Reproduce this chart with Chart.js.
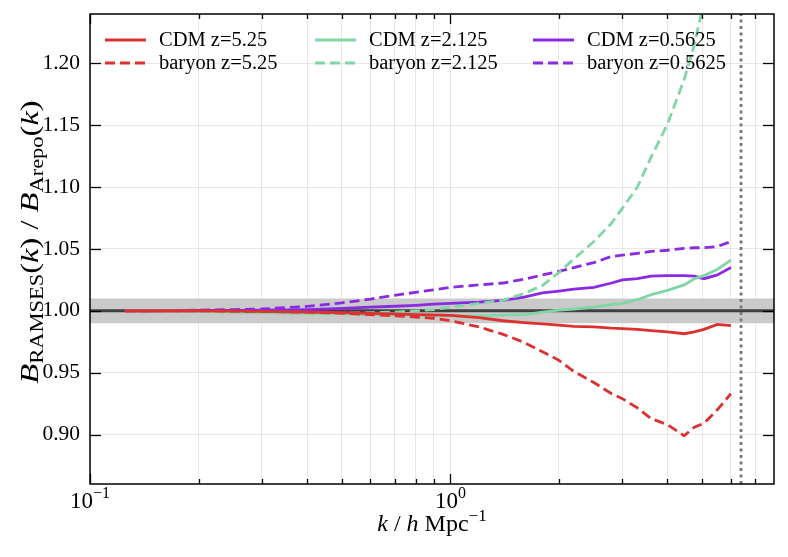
<!DOCTYPE html>
<html lang="en">
<head>
  <meta charset="UTF-8" />
  <title>Bispectrum ratio RAMSES / Arepo</title>
  <style>
    body { margin: 0; background: #fff; }
  </style>
</head>
<body>
  <canvas id="ratioChart" width="788" height="557"></canvas>

  <script src="https://cdn.jsdelivr.net/npm/chart.js"></script>
  <script>
    // wavenumbers (h/Mpc) shared by all curves
    const kValues = [0.125, 0.15, 0.2, 0.25, 0.3, 0.4, 0.5, 0.6, 0.7, 0.8, 0.9, 1.0, 1.2, 1.4, 1.6, 1.8,
                     2.0, 2.2, 2.5, 2.8, 3.0, 3.3, 3.6, 4.0, 4.45, 4.75, 5.05, 5.5, 6.0];

    const cdmZ525 = [1.0, 1.0, 1.0, 0.9998, 0.9995, 0.999, 0.9985, 0.998, 0.9975, 0.997, 0.9968, 0.9964, 0.9945, 0.992, 0.9905, 0.9895,
                     0.9885, 0.9875, 0.987, 0.986, 0.9857, 0.985, 0.984, 0.983, 0.9815, 0.983, 0.985, 0.989, 0.988];
    const baryonZ525 = [1.0, 1.0, 1.0, 0.9998, 0.9995, 0.999, 0.998, 0.997, 0.996, 0.995, 0.994, 0.992, 0.987, 0.981, 0.9745, 0.967,
                        0.960, 0.951, 0.942, 0.933, 0.929, 0.9215, 0.913, 0.908, 0.899, 0.906, 0.909, 0.920, 0.933];
    const cdmZ2125 = [1.0, 1.0, 0.9995, 0.999, 0.9985, 0.998, 0.9975, 0.997, 0.9968, 0.9965, 0.9962, 0.996, 0.996, 0.9965, 0.997, 0.999,
                      1.0005, 1.0015, 1.003, 1.005, 1.006, 1.009, 1.013, 1.0165, 1.021, 1.026, 1.0285, 1.0335, 1.041];
    const baryonZ2125 = [1.0, 1.0, 0.9995, 0.999, 0.9985, 0.998, 0.998, 0.9985, 0.999, 1.0, 1.001, 1.003, 1.006, 1.0085, 1.014, 1.0205,
                         1.031, 1.042, 1.056, 1.071, 1.083, 1.100, 1.124, 1.151, 1.187, 1.215, 1.25, 1.31, 1.38];
    const cdmZ05625 = [1.0, 1.0, 1.0, 1.0002, 1.0005, 1.001, 1.002, 1.003, 1.0037, 1.0045, 1.0055, 1.006, 1.007, 1.0085, 1.011, 1.0145,
                       1.016, 1.0175, 1.019, 1.0225, 1.025, 1.026, 1.028, 1.0285, 1.0285, 1.028, 1.026, 1.029, 1.035];
    const baryonZ05625 = [1.0, 1.0, 1.0005, 1.001, 1.0015, 1.0036, 1.0065, 1.0095, 1.0125, 1.015, 1.017, 1.019, 1.021, 1.0225, 1.0255, 1.029,
                          1.032, 1.035, 1.039, 1.044, 1.045, 1.0465, 1.048, 1.049, 1.0505, 1.051, 1.051, 1.052, 1.056];

    const xRange = [0.1, 7.9];
    const yRange = [0.86, 1.24];
    const xTickValues = [0.1, 0.2, 0.3, 0.4, 0.5, 0.6, 0.7, 0.8, 0.9, 1, 2, 3, 4, 5, 6, 7];
    const xMajorTicks = [0.1, 1];
    const xTickLabels = [['10', '\u22121'], ['10', '0']];
    const yTickValues = [0.90, 0.95, 1.00, 1.05, 1.10, 1.15, 1.20];
    const band = [0.99, 1.01];
    const kLimit = 6.4;

    const RED = '#dd3030';
    const GREEN = '#80d6a4';
    const PURPLE = '#8a2be2';
    const SERIF = '"Liberation Serif", "DejaVu Serif", serif';
    const DASH = [10, 5];

    const pts = vals => kValues.map((k, i) => ({ x: k, y: vals[i] }));

    // legend is drawn inside the axes, column by column
    const legendCols = [
      [{ label: 'CDM z=5.25', color: RED, dash: [] }, { label: 'baryon z=5.25', color: RED, dash: DASH }],
      [{ label: 'CDM z=2.125', color: GREEN, dash: [] }, { label: 'baryon z=2.125', color: GREEN, dash: DASH }],
      [{ label: 'CDM z=0.5625', color: PURPLE, dash: [] }, { label: 'baryon z=0.5625', color: PURPLE, dash: DASH }]
    ];

    function font(size, italic) {
      return (italic ? 'italic ' : '') + size + 'px ' + SERIF;
    }

    // parts: [text, size, italic, dy]
    function drawRich(ctx, parts, cx, baseline) {
      let total = 0;
      parts.forEach(p => { ctx.font = font(p[1], p[2]); p.w = ctx.measureText(p[0]).width; total += p.w; });
      let x = cx - total / 2;
      parts.forEach(p => {
        ctx.font = font(p[1], p[2]);
        ctx.fillText(p[0], x, baseline + (p[3] || 0));
        x += p.w;
      });
    }

    const decorations = {
      id: 'decorations',
      afterDraw(chart) {
        const { ctx, chartArea: a, scales: { x, y } } = chart;
        ctx.save();
        ctx.strokeStyle = '#000';
        ctx.lineWidth = 1.3;

        const seg = (x1, y1, x2, y2) => { ctx.beginPath(); ctx.moveTo(x1, y1); ctx.lineTo(x2, y2); ctx.stroke(); };

        // inward ticks, all four sides
        xTickValues.forEach(v => {
          const px = Math.round(x.getPixelForValue(v)) + 0.5;
          const len = xMajorTicks.includes(v) ? 10 : 5;
          seg(px, a.bottom, px, a.bottom - len);
          seg(px, a.top, px, a.top + len);
        });
        yTickValues.forEach(v => {
          const py = Math.round(y.getPixelForValue(v)) + 0.5;
          seg(a.left, py, a.left + 11, py);
          seg(a.right, py, a.right - 11, py);
        });
        ctx.lineWidth = 1.5;
        ctx.strokeRect(a.left, a.top, a.right - a.left, a.bottom - a.top);

        ctx.fillStyle = '#000';
        ctx.textBaseline = 'alphabetic';

        // x tick labels 10^n
        xMajorTicks.forEach((v, i) => {
          const [base, exp] = xTickLabels[i];
          drawRich(ctx, [[base, 23, false, 0], [exp, 16, false, -10]], x.getPixelForValue(v), a.bottom + 24);
        });

        // x title
        drawRich(ctx, [['k', 24, true], [' / ', 24, false], ['h', 24, true], [' Mpc', 24, false], ['\u22121', 17, false, -10]],
          (a.left + a.right) / 2, a.bottom + 47);

        // y title (rotated, widened a bit to match the wider math font)
        ctx.save();
        ctx.translate(38, 242);
        ctx.rotate(-Math.PI / 2);
        ctx.scale(1.25, 1);
        drawRich(ctx, [['B', 26, true], ['RAMSES', 18, false, 5], ['(', 26, false], ['k', 26, true], [')', 26, false],
          [' / ', 26, false], ['B', 26, true], ['Arepo', 18, false, 5], ['(', 26, false], ['k', 26, true], [')', 26, false]], 0, 0);
        ctx.restore();

        // legend
        const colX = [105, 315, 533];
        const rowY = [40, 63];
        ctx.font = font(20.5, false);
        ctx.textBaseline = 'middle';
        legendCols.forEach((col, c) => {
          col.forEach((item, r) => {
            ctx.strokeStyle = item.color;
            ctx.lineWidth = 2.8;
            ctx.setLineDash(item.dash);
            seg(colX[c], rowY[r], colX[c] + 41, rowY[r]);
            ctx.setLineDash([]);
            ctx.fillText(item.label, colX[c] + 54, rowY[r] + 1);
          });
        });
        ctx.restore();
      }
    };

    const ctx = document.getElementById('ratioChart').getContext('2d');
    new Chart(ctx, {
      type: 'line',
      data: {
        datasets: [
          { data: [{ x: xRange[0], y: band[1] }, { x: xRange[1], y: band[1] }], fill: { value: band[0] },
            backgroundColor: '#cacaca', borderWidth: 0, order: 20 },
          { data: [{ x: xRange[0], y: 1 }, { x: xRange[1], y: 1 }], borderColor: '#404040', borderWidth: 3, order: 19 },
          { data: [{ x: kLimit, y: yRange[0] }, { x: kLimit, y: yRange[1] }], borderColor: '#777', borderWidth: 2.8,
            borderDash: [3, 3.5], order: 18 },
          { label: 'baryon z=0.5625', data: pts(baryonZ05625), borderColor: PURPLE, borderDash: DASH, order: 6 },
          { label: 'CDM z=0.5625', data: pts(cdmZ05625), borderColor: PURPLE, order: 5 },
          { label: 'baryon z=2.125', data: pts(baryonZ2125), borderColor: GREEN, borderDash: DASH, order: 4 },
          { label: 'CDM z=2.125', data: pts(cdmZ2125), borderColor: GREEN, order: 3 },
          { label: 'baryon z=5.25', data: pts(baryonZ525), borderColor: RED, borderDash: DASH, order: 2 },
          { label: 'CDM z=5.25', data: pts(cdmZ525), borderColor: RED, order: 1 }
        ]
      },
      options: {
        responsive: false,
        animation: false,
        devicePixelRatio: 1,
        layout: { padding: { top: 14, right: 14, left: 0, bottom: 0 } },
        elements: {
          point: { radius: 0 },
          line: { borderWidth: 2.8, tension: 0, fill: false }
        },
        plugins: {
          legend: { display: false },
          tooltip: { enabled: false }
        },
        scales: {
          x: {
            type: 'logarithmic',
            min: xRange[0],
            max: xRange[1],
            afterBuildTicks: s => { s.ticks = xTickValues.map(v => ({ value: v })); },
            afterFit: s => { s.height = 73; s.paddingLeft = 0; s.paddingRight = 0; },
            ticks: { display: false },
            grid: { color: 'rgba(0,0,0,0.09)', lineWidth: 1, drawTicks: false },
            border: { display: false }
          },
          y: {
            type: 'linear',
            min: yRange[0],
            max: yRange[1],
            afterBuildTicks: s => { s.ticks = yTickValues.map(v => ({ value: v })); },
            afterFit: s => { s.width = 90; s.paddingTop = 0; s.paddingBottom = 0; },
            ticks: {
              padding: 10,
              color: '#000',
              font: { family: SERIF, size: 21.5 },
              callback: v => v.toFixed(2)
            },
            grid: { color: 'rgba(0,0,0,0.09)', lineWidth: 1, drawTicks: false },
            border: { display: false }
          }
        }
      },
      plugins: [decorations]
    });
  </script>
</body>
</html>
